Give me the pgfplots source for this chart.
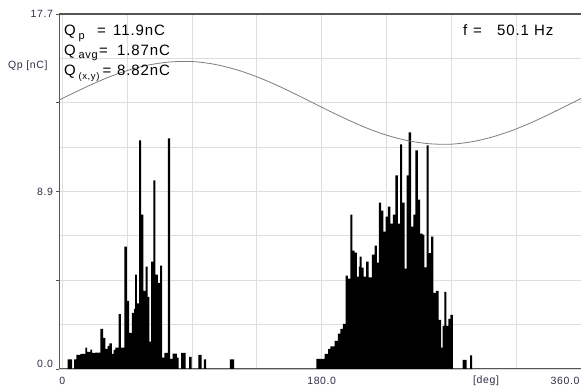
\documentclass[border=0pt]{standalone}
\usepackage{pgfplots}
\pgfplotsset{compat=1.18}
\usepackage{fontspec}
\setmainfont[LetterSpace=6]{Liberation Sans}
\definecolor{gridc}{RGB}{222,222,222}
\definecolor{spine}{RGB}{85,85,85}
\definecolor{tickc}{RGB}{45,45,70}
\definecolor{curvec}{RGB}{125,125,125}
\begin{document}
\begin{tikzpicture}
\begin{axis}[
  at={(0,0)}, anchor=south west,
  scale only axis, width=521.5pt, height=355pt,
  xmin=-2, xmax=360, ymin=0, ymax=17.7,
  axis x line*=box, axis y line*=left,
  axis line style={spine, line width=1.4pt},
  every outer y axis line/.append style={-},
  every outer x axis line/.append style={-},
  xtick={0,45,...,315}, xticklabels={0,,,,180.0,,,},
  extra x ticks={360}, extra x tick labels={360.0},
  extra x tick style={xticklabel style={anchor=north east, xshift=2pt}},
  ytick={4.425,8.85,13.275,17.7}, yticklabels={,8.9,,17.7},
  minor ytick={2.2125,6.6375,11.0625,15.4875},
  extra y ticks={0}, extra y tick labels={0.0},
  extra y tick style={yticklabel style={yshift=5pt}},
  xmajorgrids=true, ymajorgrids=true, yminorgrids=true,
  major grid style={gridc, line width=1pt},
  minor grid style={gridc, line width=1pt},
  tick align=outside, major tick length=3pt, minor tick length=0pt,
  tick style={spine, line width=0.8pt},
  every major x tick/.append style={draw=none},
  tick label style={font=\fontsize{10.5}{12}\selectfont, text=tickc},
  xticklabel style={yshift=-2pt},
  clip=false,
]
% phase-resolved histogram (deg, charge nC), interval bars
\addplot[ybar interval, fill=black, draw=none] table {
x y
3.7 0.48
6.7 0
8.1 0.48
9.7 0.7
12.5 0.75
15.9 1.07
17.1 0.85
19.4 0.97
20.6 0.8
22.8 0.82
26.3 2.0
28.2 1.55
29.8 1.0
31.4 1.15
32.7 1.28
34.4 0.75
35.5 0.95
36.7 1.07
39.0 2.73
40.6 1.07
43.1 6.1
44.8 3.4
46.4 1.8
48.3 2.8
49.8 3.0
50.5 4.7
51.7 3.27
53.3 11.4
54.7 7.7
56.3 3.9
57.7 5.1
59.1 3.6
60.4 1.37
61.6 5.35
63.2 9.4
64.6 4.7
66.3 4.3
67.8 5.15
69.2 0.57
70.8 0.8
73.2 11.5
74.8 0.5
76.6 0.77
79.4 0.57
80.7 0
82.4 0.8
85.6 0
87.9 0.6
89.8 0
94.4 0.7
96.7 0
98.3 0.48
99.7 0
116.3 0.48
119.3 0
176.3 0.5
182.1 0.75
184.4 1.0
186.0 1.13
189.0 1.4
191.3 1.77
192.9 2.0
194.7 2.25
196.6 4.65
198.2 4.5
199.9 7.7
201.3 5.9
202.8 5.8
204.4 4.6
205.8 5.1
206.3 5.6
207.7 5.05
209.1 4.6
210.9 5.35
212.5 4.57
214.8 5.7
216.7 6.15
218.3 5.3
219.7 8.3
221.3 7.9
222.9 6.85
224.3 7.6
225.9 8.1
227.6 7.25
229.4 7.7
231.2 9.65
232.8 7.25
234.5 11.2
235.9 8.3
237.5 5.0
239.0 9.65
240.4 11.8
242.1 7.1
243.7 7.7
245.1 10.9
246.7 8.45
248.3 6.75
250.1 6.7
251.3 5.07
252.9 11.15
254.3 5.78
255.9 6.6
257.5 3.8
259.3 3.9
261.2 2.45
262.9 1.07
264.0 2.15
265.2 3.85
266.5 2.15
267.9 2.5
269.3 2.7
271.0 0
277.8 0.45
280.6 0
283.0 0.68
284.4 0
};
% reference sine of the supply voltage
\addplot[curvec, line width=0.8pt, smooth] coordinates {
(-2,13.41) (0,13.49) (15,14.01) (30,14.49) (45,14.88) (60,15.16) (75,15.31)
(90,15.33) (105,15.20) (120,14.94) (135,14.57) (150,14.11) (165,13.59)
(180,13.05) (195,12.53) (210,12.05) (225,11.66) (240,11.38) (255,11.23)
(270,11.21) (285,11.34) (300,11.60) (315,11.97) (330,12.43) (345,12.95) (360,13.49)
};
\end{axis}
\begin{scope}[every node/.style={inner sep=0pt, anchor=base west}]
\node[font=\fontsize{15}{18}\selectfont] at (4.5pt,333pt) {Q};
\node[font=\fontsize{11}{13}\selectfont] at (19pt,329pt) {p};
\node[font=\fontsize{15}{18}\selectfont] at (37.5pt,333pt) {=};
\node[font=\fontsize{15}{18}\selectfont] at (53.5pt,333pt) {11.9nC};
\node[font=\fontsize{15}{18}\selectfont] at (4.5pt,313.5pt) {Q};
\node[font=\fontsize{11}{13}\selectfont] at (19pt,310pt) {avg};
\node[font=\fontsize{15}{18}\selectfont] at (39.5pt,313.5pt) {=};
\node[font=\fontsize{15}{18}\selectfont] at (57.5pt,313.5pt) {1.87nC};
\node[font=\fontsize{15}{18}\selectfont] at (4.5pt,293pt) {Q};
\node[font=\fontsize{9.5}{11}\selectfont] at (19pt,289pt) {(x,y)};
\node[font=\fontsize{15}{18}\selectfont] at (43pt,293pt) {=};
\node[font=\fontsize{15}{18}\selectfont] at (57.5pt,293pt) {8.82nC};
\node[font=\fontsize{15}{18}\selectfont] at (403.5pt,333pt) {f};
\node[font=\fontsize{15}{18}\selectfont] at (413.5pt,333pt) {=};
\node[font=\fontsize{15}{18}\selectfont] at (437.5pt,333pt) {50.1 Hz};
\node[font=\fontsize{10.5}{12}\selectfont, text=tickc] at (-51.5pt,300pt) {Qp [nC]};
\node[font=\fontsize{10.5}{12}\selectfont, text=tickc] at (413.5pt,-14pt) {[deg]};
\end{scope}
\pgfresetboundingbox
\path[use as bounding box] (-59.5pt,-20pt) rectangle (521.5pt,369pt);
\end{tikzpicture}
\end{document}
